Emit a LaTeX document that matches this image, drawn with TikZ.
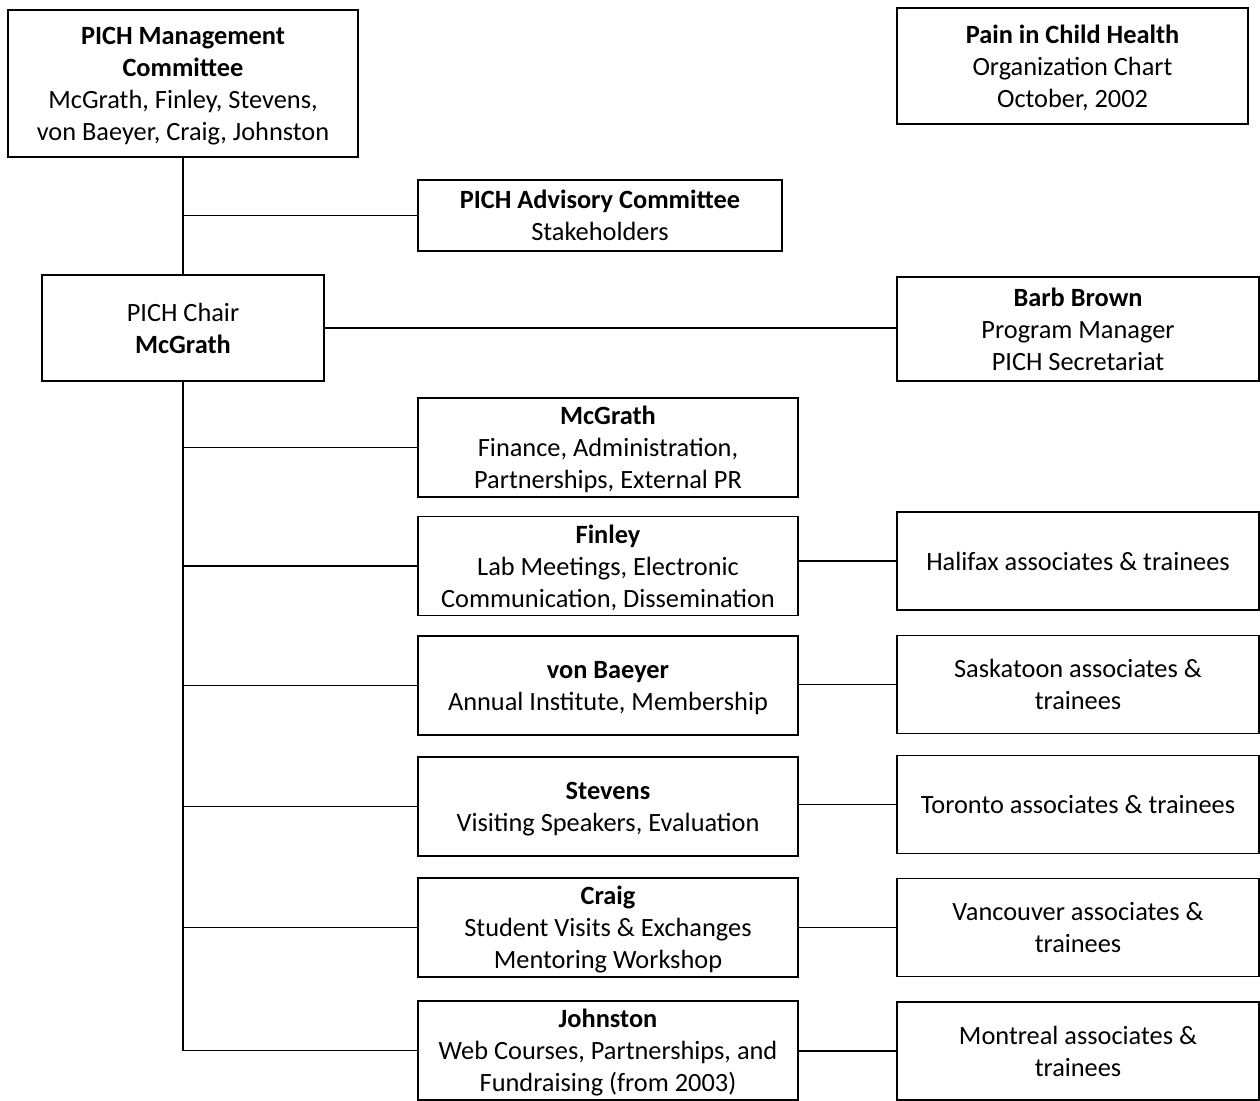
\documentclass[tikz,border=0pt]{standalone}
\usepackage{fontspec}
\setmainfont{Carlito}
\usetikzlibrary{positioning}

\tikzset{
  box/.style={draw,line width=1.1pt,align=center,inner sep=0pt,text depth=0pt,font=\fontsize{15}{18.2}\selectfont},
  midbox/.style={box,minimum width=7.6cm,minimum height=1.98cm},
  sidebox/.style={box,minimum width=7.24cm,minimum height=1.96cm},
  link/.style={line width=0.6pt}
}

\begin{document}
\begin{tikzpicture}[line cap=rect,line join=miter,x=0.02cm,y=0.02cm]
\useasboundingbox (0,0) rectangle (1260,-1100);

% top of the chart
\node[box,minimum width=7cm,minimum height=2.94cm] (mgmt) at (183,-83.5)
  {\textbf{PICH Management}\\\textbf{Committee}\\McGrath, Finley, Stevens,\\von Baeyer, Craig, Johnston};
\node[box,minimum width=7.02cm,minimum height=2.32cm] (title) at (1072.5,-66)
  {\textbf{Pain in Child Health}\\Organization Chart\\October, 2002};
\node[box,minimum width=7.28cm,minimum height=1.42cm] (adv) at (600,-215.5)
  {\textbf{PICH Advisory Committee}\\Stakeholders};
\node[box,minimum width=5.64cm,minimum height=2.12cm] (chair) at (183,-328)
  {PICH Chair\\\textbf{McGrath}};
\node[box,minimum width=7.24cm,minimum height=2.08cm] (barb) at (1078,-329)
  {\textbf{Barb Brown}\\Program Manager\\PICH Secretariat};

% portfolios
\node[midbox] (mcg) at (608,-447.5) {\textbf{McGrath}\\Finance, Administration,\\Partnerships, External PR};
\node[midbox] (fin) at (608,-566) {\textbf{Finley}\\Lab Meetings, Electronic\\Communication, Dissemination};
\node[midbox] (vb) at (608,-685.5) {\textbf{von Baeyer}\\Annual Institute, Membership};
\node[midbox] (ste) at (608,-806.5) {\textbf{Stevens}\\Visiting Speakers, Evaluation};
\node[midbox] (cra) at (608,-927.5) {\textbf{Craig}\\Student Visits \& Exchanges\\Mentoring Workshop};
\node[midbox] (joh) at (608,-1050.5) {\textbf{Johnston}\\Web Courses, Partnerships, and\\Fundraising (from 2003)};

% local groups
\node[sidebox] (hal) at (1078,-561) {Halifax associates \& trainees};
\node[sidebox] (sas) at (1078,-684.5) {Saskatoon associates \&\\trainees};
\node[sidebox] (tor) at (1078,-804.5) {Toronto associates \& trainees};
\node[sidebox] (van) at (1078,-927.5) {Vancouver associates \&\\trainees};
\node[sidebox] (mon) at (1078,-1051) {Montreal associates \&\\trainees};

\draw[link] (mgmt.south) -- (chair.north);
\draw[link] (mgmt.south) |- (adv.west);
\draw[link] (chair.east) -- (chair.east -| barb.west);
\foreach \b in {mcg,fin,vb,ste,cra,joh}
  \draw[link] (chair.south) |- (\b.west);
\draw[link] (fin.east |- hal.west) -- (hal.west);
\draw[link] (vb.east |- sas.west) -- (sas.west);
\draw[link] (ste.east |- tor.west) -- (tor.west);
\draw[link] (cra.east |- van.west) -- (van.west);
\draw[link] (joh.east |- mon.west) -- (mon.west);

\end{tikzpicture}
\end{document}
